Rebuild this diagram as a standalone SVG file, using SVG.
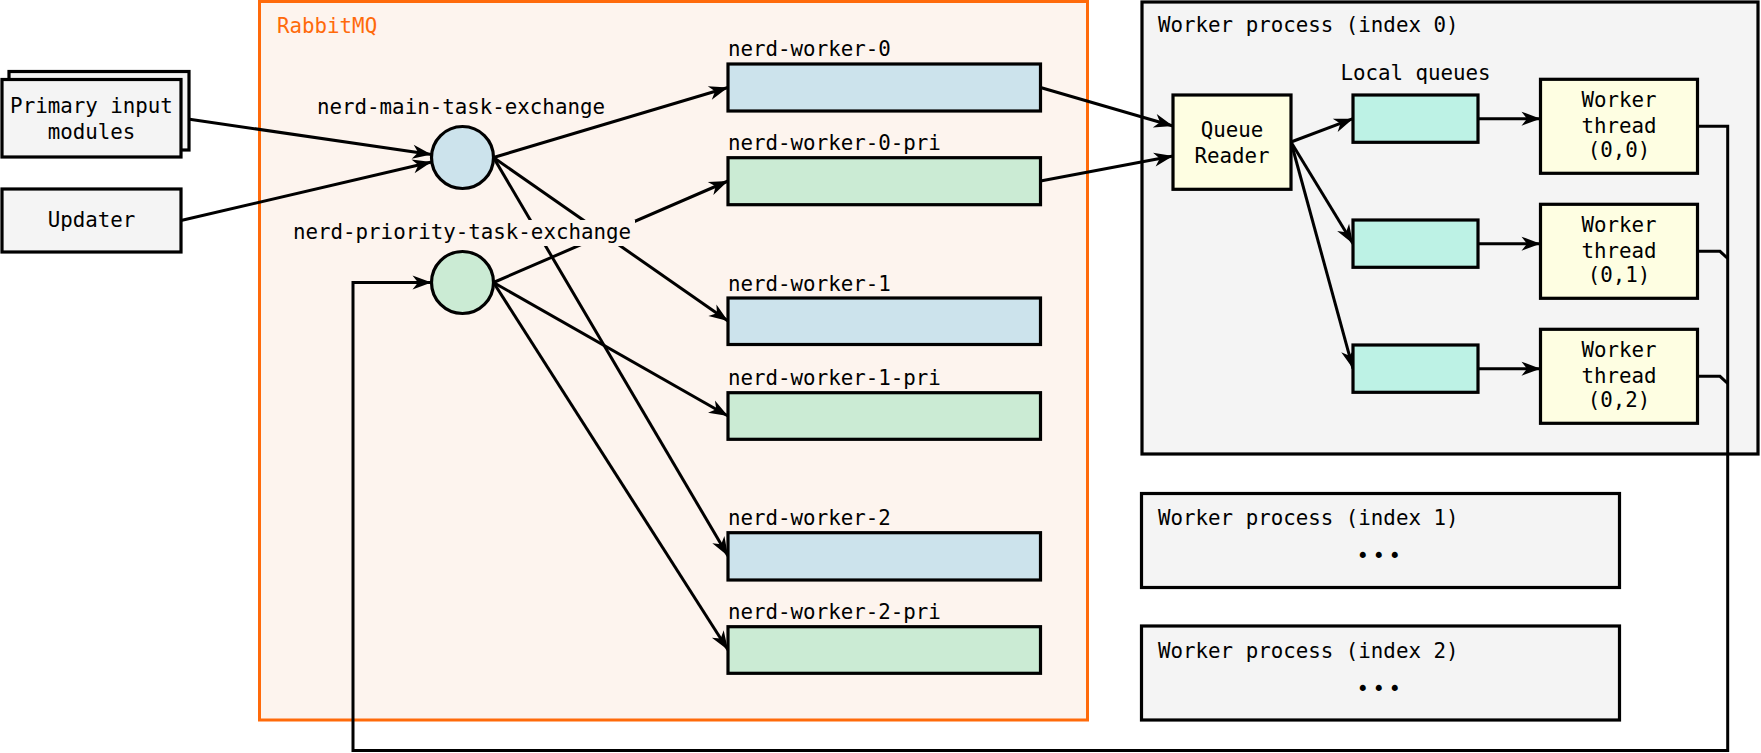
<svg xmlns="http://www.w3.org/2000/svg" width="1761" height="753" viewBox="0 0 1761 753">
<style>
text{font-family:"DejaVu Sans Mono","Liberation Mono",monospace;font-size:20.8px;fill:#000}
.c{text-anchor:middle}
.box{stroke:#000;stroke-width:3.2}
.grey{fill:#f4f4f4}
.blue{fill:#cce3ec}
.green{fill:#cbebd4}
.yellow{fill:#fefee2}
.mint{fill:#bdf2e5}
.edge{fill:none;stroke:#000;stroke-width:3}
.edgea{fill:none;stroke:#000;stroke-width:3;marker-end:url(#arr)}
</style>
<defs>
<marker id="arr" viewBox="-21 -10 23 20" refX="0" refY="0" markerWidth="23" markerHeight="20" markerUnits="userSpaceOnUse" orient="auto">
<path d="M0,0 L-19,-7 L-13.5,0 L-19,7 Z" fill="#000"/>
</marker>
</defs>
<rect width="1761" height="753" fill="#fff"/>

<g id="rabbitmq">
<rect x="259.5" y="1.5" width="828" height="718.5" fill="#fdf4ee" stroke="#ff6a0a" stroke-width="3"/>
<text x="277" y="33" style="fill:#ff6a0a">RabbitMQ</text>
</g>
<g id="worker-process-0">
<rect class="box grey" x="1142" y="2" width="616" height="452"/>
<text x="1158" y="32.3">Worker process (index 0)</text>
</g>
<g id="worker-process-1">
<rect class="box grey" x="1141.5" y="493.5" width="478" height="94"/>
<text x="1158" y="525">Worker process (index 1)</text>
<text class="c" x="1380.5" y="563" style="letter-spacing:3.5px">•••</text>
</g>
<g id="worker-process-2">
<rect class="box grey" x="1141.5" y="626" width="478" height="94"/>
<text x="1158" y="658">Worker process (index 2)</text>
<text class="c" x="1380.5" y="695.5" style="letter-spacing:3.5px">•••</text>
</g>

<g id="connectors">
<path class="edgea" d="M181,118 L431.5,154.5"/>
<path class="edgea" d="M181,220.5 L431.5,162"/>
<path class="edgea" d="M493.5,157.5 L728,87.5"/>
<path class="edgea" d="M493.5,157.5 L728,321"/>
<path class="edgea" d="M493.5,157.5 L728,556"/>
<path class="edgea" d="M493.5,282.5 L728,181"/>
<path class="edgea" d="M493.5,282.5 L728,416"/>
<path class="edgea" d="M493.5,282.5 L728,650"/>
<path class="edgea" d="M1040.5,87.5 L1173,126"/>
<path class="edgea" d="M1040.5,181 L1173,156"/>
<path class="edgea" d="M1291,142 L1353,118.7"/>
<path class="edgea" d="M1291,142 L1353,243.7"/>
<path class="edgea" d="M1291,142 L1353,368.7"/>
<path class="edgea" d="M1478,118.7 L1540.5,118.7"/>
<path class="edgea" d="M1478,243.7 L1540.5,243.7"/>
<path class="edgea" d="M1478,368.7 L1540.5,368.7"/>
<path class="edgea" d="M1697.5,126.3 H1727.7 V750.5 H353 V282.5 H431.5"/>
<path class="edge" d="M1697.5,251.3 H1720 L1727.7,258.5"/>
<path class="edge" d="M1697.5,376.3 H1720 L1727.7,383.5"/>
</g>

<g id="primary-input">
<rect class="box grey" x="9" y="71.5" width="180" height="78.5"/>
<rect class="box grey" x="2" y="79.5" width="179" height="77.5"/>
<text class="c" x="91.5" y="113">Primary input</text>
<text class="c" x="91.5" y="139">modules</text>
</g>
<g id="updater">
<rect class="box grey" x="2" y="189" width="179" height="63"/>
<text class="c" x="91.5" y="227">Updater</text>
</g>
<g id="main-exchange">
<circle class="box blue" cx="462.5" cy="157.5" r="31"/>
<text class="c" x="461" y="114">nerd-main-task-exchange</text>
</g>
<g id="priority-exchange">
<circle class="box green" cx="462.5" cy="282.5" r="31"/>
<rect x="291" y="220" width="344" height="26" fill="#fdf4ee"/>
<text class="c" x="462" y="239">nerd-priority-task-exchange</text>
</g>
<g id="nerd-worker-0">
<text x="728" y="56">nerd-worker-0</text>
<rect class="box blue" x="728" y="64" width="312.5" height="47"/>
</g>
<g id="nerd-worker-0-pri">
<text x="728" y="150">nerd-worker-0-pri</text>
<rect class="box green" x="728" y="157.7" width="312.5" height="47"/>
</g>
<g id="nerd-worker-1">
<text x="728" y="290.5">nerd-worker-1</text>
<rect class="box blue" x="728" y="298" width="312.5" height="46.5"/>
</g>
<g id="nerd-worker-1-pri">
<text x="728" y="384.5">nerd-worker-1-pri</text>
<rect class="box green" x="728" y="392.7" width="312.5" height="46.6"/>
</g>
<g id="nerd-worker-2">
<text x="728" y="525">nerd-worker-2</text>
<rect class="box blue" x="728" y="532.7" width="312.5" height="47.3"/>
</g>
<g id="nerd-worker-2-pri">
<text x="728" y="619">nerd-worker-2-pri</text>
<rect class="box green" x="728" y="626.7" width="312.5" height="46.6"/>
</g>
<g id="queue-reader">
<rect class="box yellow" x="1173" y="95" width="118" height="94.3"/>
<text class="c" x="1232" y="136.7">Queue</text>
<text class="c" x="1232" y="163">Reader</text>
</g>
<g id="local-queues">
<text class="c" x="1415.5" y="80">Local queues</text>
<rect class="box mint" x="1353" y="95" width="125" height="47.3"/>
<rect class="box mint" x="1353" y="220" width="125" height="47.3"/>
<rect class="box mint" x="1353" y="345" width="125" height="47.3"/>
</g>
<g id="worker-thread-0-0">
<rect class="box yellow" x="1540.5" y="79.3" width="157" height="94"/>
<text class="c" x="1619" y="107.3">Worker</text>
<text class="c" x="1619" y="132.7">thread</text>
<text class="c" x="1619" y="157">(0,0)</text>
</g>
<g id="worker-thread-0-1">
<rect class="box yellow" x="1540.5" y="204.3" width="157" height="94"/>
<text class="c" x="1619" y="232.3">Worker</text>
<text class="c" x="1619" y="257.7">thread</text>
<text class="c" x="1619" y="282">(0,1)</text>
</g>
<g id="worker-thread-0-2">
<rect class="box yellow" x="1540.5" y="329.3" width="157" height="94"/>
<text class="c" x="1619" y="357.3">Worker</text>
<text class="c" x="1619" y="382.7">thread</text>
<text class="c" x="1619" y="407">(0,2)</text>
</g>
</svg>
